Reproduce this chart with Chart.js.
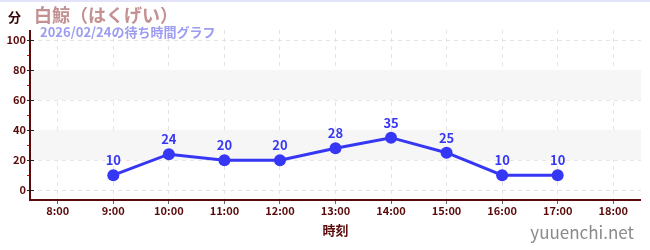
<!DOCTYPE html>
<html><head><meta charset="utf-8">
<script src="https://cdn.jsdelivr.net/npm/chart.js@4/dist/chart.umd.min.js"></script>
<style>html,body{margin:0;padding:0;background:#fff;}#wrap{width:650px;height:250px;position:relative;}</style>
</head><body><div id="wrap"><canvas id="c" width="650" height="250"></canvas></div>
<script>
const categories = ["8:00","9:00","10:00","11:00","12:00","13:00","14:00","15:00","16:00","17:00","18:00"];
const waitTimes = [null,10,24,20,20,28,35,25,10,10,null];
const yTicks = [0,20,40,60,80,100];
const bands = [[20,40],[60,80]];
const unitLabel = "分";
const titleText = "白鯨（はくげい）";
const subtitleText = "2026/02/24の待ち時間グラフ";
const xTitle = "時刻";
const watermark = "yuuenchi.net";

const FONT = '"Noto Sans CJK JP", "Noto Sans", sans-serif';
const AXIS = '#5a0a0a';
const BLUE = '#3636f5';

const decor = {
  id: 'decor',
  beforeDatasetsDraw(chart) {
    const {ctx, chartArea: a, scales: {y}} = chart;
    ctx.save();
    ctx.fillStyle = '#f6f6f6';
    bands.forEach(([lo, hi]) => {
      const t = y.getPixelForValue(hi), b = y.getPixelForValue(lo);
      ctx.fillRect(a.left + 1, t, a.right - a.left - 1, b - t);
    });
    ctx.restore();
  },
  afterDraw(chart) {
    const {ctx, chartArea: a, scales: {y}} = chart;
    ctx.save();
    // solid axis lines
    ctx.strokeStyle = AXIS;
    ctx.lineWidth = 2;
    ctx.setLineDash([]);
    ctx.beginPath();
    ctx.moveTo(a.left, a.top);
    ctx.lineTo(a.left, a.bottom);
    ctx.lineTo(a.right, a.bottom);
    ctx.stroke();
    ctx.strokeStyle = '#222';
    ctx.lineWidth = 1;
    yTicks.forEach(v => {
      const py = Math.round(y.getPixelForValue(v)) + 0.5;
      ctx.beginPath(); ctx.moveTo(a.left - 2, py); ctx.lineTo(a.left + 4, py); ctx.stroke();
    });
    const meta = chart.getDatasetMeta(0);
    ctx.fillStyle = BLUE;
    ctx.font = 'bold 13px ' + FONT;
    ctx.textAlign = 'center';
    ctx.textBaseline = 'alphabetic';
    meta.data.forEach((pt, i) => {
      const v = waitTimes[i];
      if (v === null || v === undefined) return;
      ctx.fillText(String(v), pt.x, pt.y - 10);
    });
    ctx.textAlign = 'left';
    ctx.fillStyle = '#3a0808';
    ctx.font = 'bold 13px ' + FONT;
    ctx.fillText(unitLabel, 8, 22);
    ctx.fillStyle = '#c39191';
    ctx.font = 'bold 18px ' + FONT;
    ctx.fillText(titleText, 34, 22);
    ctx.fillStyle = '#9c9cf0';
    ctx.font = 'bold 13px ' + FONT;
    ctx.fillText(subtitleText, 40, 37);
    ctx.fillStyle = '#8a8a8a';
    ctx.font = '17px ' + FONT;
    ctx.textAlign = 'right';
    ctx.fillText(watermark, 634, 239);
    ctx.strokeStyle = '#e2e2f8';
    ctx.lineWidth = 2;
    ctx.beginPath(); ctx.moveTo(0, 1); ctx.lineTo(650, 1); ctx.stroke();
    ctx.restore();
  }
};

new Chart(document.getElementById('c'), {
  type: 'line',
  data: {
    labels: categories,
    datasets: [{
      data: waitTimes,
      borderColor: BLUE,
      backgroundColor: BLUE,
      borderWidth: 3,
      pointRadius: 6,
      pointHoverRadius: 6,
      pointBackgroundColor: BLUE,
      pointBorderWidth: 0,
      spanGaps: false,
      tension: 0
    }]
  },
  options: {
    responsive: false,
    animation: false,
    devicePixelRatio: 1,
    layout: {padding: {top: 30, right: 9, left: 0, bottom: 12}},
    plugins: {legend: {display: false}, tooltip: {enabled: false}, title: {display: false}},
    scales: {
      x: {
        type: 'category',
        offset: true,
        grid: {
          display: true,
          color: '#e4e4e4',
          tickColor: '#666',
          tickLength: 4,
          tickBorderDash: [],
          offset: false,
          drawOnChartArea: true
        },
        border: {display: false, color: AXIS, width: 2, dash: [4, 4]},
        ticks: {color: AXIS, font: {family: FONT, size: 11, weight: 'bold'}, padding: 0, maxRotation: 0, autoSkip: false},
        title: {display: true, text: xTitle, color: AXIS, font: {family: FONT, size: 13, weight: 'bold'}, padding: {top: 2, bottom: 0}},
        afterFit(s) { s.height = 38; }
      },
      y: {
        min: -6.5,
        max: 106.7,
        afterBuildTicks(s) {
          const t = [];
          for (let v = 0; v <= 100; v += 10) t.push({value: v});
          s.ticks = t;
        },
        grid: {
          color: ctx => (ctx.tick && ctx.tick.value % 20 === 0) ? '#e4e4e4' : 'rgba(0,0,0,0)',
          tickColor: ctx => (ctx.tick && ctx.tick.value % 20 === 0) ? '#222' : '#e00000',
          tickLength: 3,
          tickBorderDash: [],
          drawOnChartArea: true
        },
        border: {display: false, color: AXIS, width: 2, dash: [4, 4]},
        ticks: {
          color: AXIS,
          font: {family: FONT, size: 11, weight: 'bold'},
          padding: 1,
          autoSkip: false,
          callback: v => (v % 20 === 0 ? String(v) : '')
        },
        afterFit(s) { s.width = 30; }
      }
    }
  },
  plugins: [decor]
});
</script>
</body></html>
